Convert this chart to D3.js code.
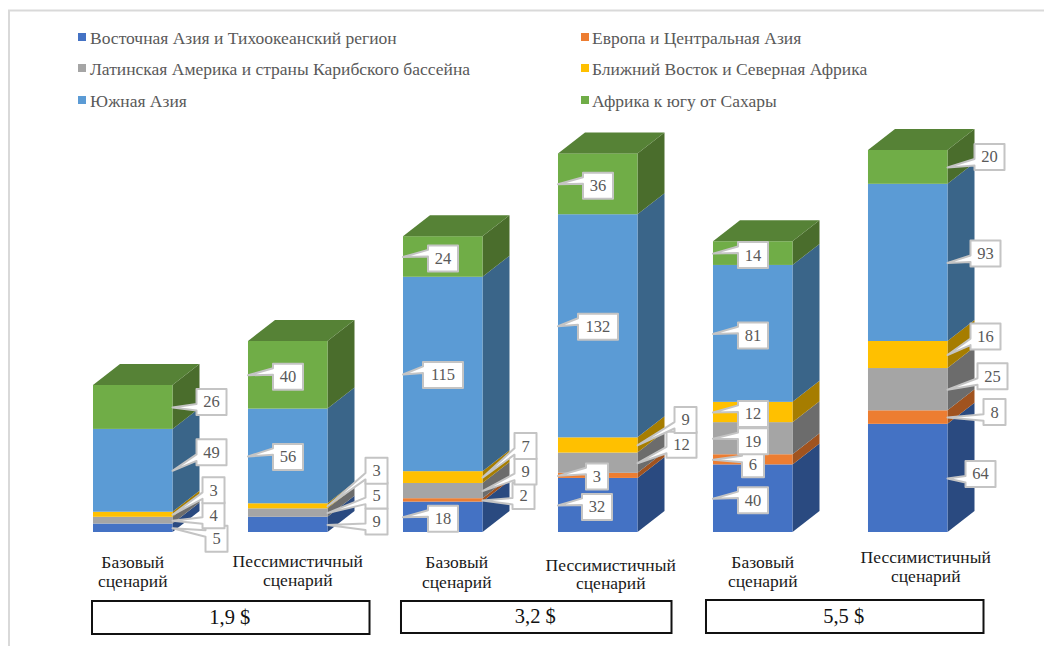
<!DOCTYPE html>
<html lang="ru"><head><meta charset="utf-8">
<script src="https://cdn.jsdelivr.net/npm/d3@7"></script>
<style>html,body{margin:0;padding:0;background:#fff}svg{display:block}text{font-family:"Liberation Serif",serif}</style>
</head><body><div id="chart"></div>
<script>
// ---------- data ----------
const scenarios = ["Базовый сценарий","Пессимистичный сценарий","Базовый сценарий","Пессимистичный сценарий","Базовый сценарий","Пессимистичный сценарий"];
const regions = ["Восточная Азия и Тихоокеанский регион","Европа и Центральная Азия","Латинская Америка и страны Карибского бассейна","Ближний Восток и Северная Африка","Южная Азия","Африка к югу от Сахары"];
const eastAsia  = [5,9,18,32,40,64];
const europe    = [0,0,2,3,6,8];
const latAm     = [4,5,9,12,19,25];
const mena      = [3,3,7,9,12,16];
const southAsia = [49,56,115,132,81,93];
const africa    = [26,40,24,36,14,20];
const povertyLines = ["1,9 $","3,2 $","5,5 $"];

// ---------- styling and layout (not data) ----------
const W=1044,H=646;
const front=["#4472c4","#ed7d31","#a5a5a5","#ffc000","#5b9bd5","#70ad47"];
const side =["#2a4a80","#a0531f","#6c6c6c","#a67d00","#3a6589","#4a6d2c"];
const topFace="#568236";
const depthX=27,depthY=21;
// callout offsets per column and series: [attach side, dx, dy] relative to the segment middle
const calloutOffsets=[
 [["R",44,10],null,["R",41,-6],["R",41,-25],["R",39,-19],["R",39,-6]],
 [["R",49,-4],null,["R",49,-18],["R",49,-36],["L",40,0],["L",40,1]],
 [["L",40,1],["R",41,-5],["R",43,-20],["R",43,-32],["L",40,0],["L",40,1]],
 [["L",39,1],["L",39,0],["R",44,-19],["R",48,-26],["L",40,0],["L",40,1]],
 [["L",40,1],["L",40,4],["L",40,2],["L",40,1],["L",40,1],["L",40,1]],
 [["R",33,-5],["R",47,-6],["R",45,-14],["R",38,-19],["R",38,-10],["R",42,-11]]
];
const categoryShift=[0,10,14,13,10,18];
const categoryLineY=[[563,582],[562,581],[563,583],[566,584],[563,582],[558,577]];
const groupBoxes=[{from:0,to:1,l:-1,r:42,y:601,h:33},{from:2,to:3,l:-2,r:34,y:601,h:32},{from:4,to:5,l:-7,r:36,y:600,h:33}];

const svg=d3.select("#chart").append("svg").attr("width",W).attr("height",H);
svg.append("rect").attr("width",W).attr("height",H).attr("fill","#fff");
svg.append("path").attr("d",`M9,${H}V10.5H${W}`).attr("fill","none").attr("stroke","#d9d9d9").attr("stroke-width",2);

const x=d3.scaleBand().domain(d3.range(scenarios.length)).range([93,947.5]).paddingInner(.487).paddingOuter(0);
const y=d3.scaleLinear().domain([0,226]).range([532,150]);
const rows=d3.range(scenarios.length).map(i=>({i,s0:eastAsia[i],s1:europe[i],s2:latAm[i],s3:mena[i],s4:southAsia[i],s5:africa[i]}));
const stacked=d3.stack().keys(["s0","s1","s2","s3","s4","s5"])(rows);

// legend
const legendX=[78,581],legendY=[37,68,100];
const leg=svg.append("g").selectAll("g").data(regions).join("g")
  .attr("transform",(d,i)=>`translate(${legendX[i%2]},${legendY[Math.floor(i/2)]})`);
leg.append("rect").attr("y",-4).attr("width",8).attr("height",8).attr("fill",(d,i)=>front[i]);
leg.append("text").attr("x",(d,i)=>i%2?11:12).attr("y",7).attr("font-size",17.5).attr("fill","#595959").text(d=>d);

// bars
const cols=svg.append("g").selectAll("g").data(rows).join("g");
cols.each(function(r){
  const g=d3.select(this),x0=x(r.i),x1=x0+x.bandwidth();
  stacked.forEach((ser,k)=>{
    const [a,b]=ser[r.i]; if(b===a) return;
    g.append("path").attr("fill",side[k])
      .attr("d",`M${x1},${y(a)}L${x1+depthX},${y(a)-depthY}L${x1+depthX},${y(b)-depthY}L${x1},${y(b)}Z`);
    g.append("rect").attr("x",x0).attr("width",x.bandwidth()).attr("y",y(b)).attr("height",y(a)-y(b)).attr("fill",front[k]);
  });
  const t=y(d3.max(stacked,s=>s[r.i][1]));
  g.append("path").attr("fill",topFace)
   .attr("d",`M${x0},${t}L${x0+depthX},${t-depthY}L${x1+depthX},${t-depthY}L${x1},${t}Z`);
});

// callouts
function calloutPath(tx,ty,cx,cy,w,h){
  const l=cx-w/2,r=cx+w/2,tp=cy-h/2,b=cy+h/2;
  const below=ty>cy;
  const a=below?tp+h*.58:tp+h*.17, c=below?tp+h*.83:tp+h*.42;
  return `M${l},${tp}H${r}V${b}H${l}V${c}L${tx},${ty}L${l},${a}Z`;
}
const labels=svg.append("g");
stacked.forEach((ser,k)=>{
  rows.forEach(r=>{
    const [a,b]=ser[r.i]; const off=calloutOffsets[r.i][k];
    if(b===a||!off) return;
    const tx=off[0]==="L"?x(r.i):x(r.i)+x.bandwidth();
    const ty=y((a+b)/2)+.5, cx=tx+off[1], cy=ty+off[2]+.5;
    const v=b-a, w=v>=100?40:v>=10?30:22, h=26;
    labels.append("path").attr("d",calloutPath(tx,ty,cx,cy,w,h)).attr("fill","#fff").attr("stroke","#c4c4c4").attr("stroke-width",2).attr("stroke-linejoin","round");
    labels.append("text").attr("x",cx).attr("y",cy+5.5).attr("text-anchor","middle").attr("font-size",16.5).attr("fill","#595959").text(v);
  });
});

// category labels
const cat=svg.append("g").attr("font-size",17.5).attr("fill","#1a1a1a").attr("text-anchor","middle");
scenarios.forEach((s,i)=>{
  s.split(" ").forEach((part,j)=>{
    cat.append("text").attr("x",x(i)+x.bandwidth()/2+categoryShift[i]).attr("y",categoryLineY[i][j]+5).text(part);
  });
});

// poverty line boxes
groupBoxes.forEach((b,i)=>{
  const l=x(b.from)+b.l, r=x(b.to)+x.bandwidth()+b.r;
  svg.append("rect").attr("x",l).attr("y",b.y).attr("width",r-l).attr("height",b.h).attr("fill","#fff").attr("stroke","#111").attr("stroke-width",2);
  svg.append("text").attr("x",(l+r)/2-1).attr("y",b.y+b.h/2+6).attr("text-anchor","middle").attr("font-size",20.5).attr("fill","#111").text(povertyLines[i]);
});
</script></body></html>
